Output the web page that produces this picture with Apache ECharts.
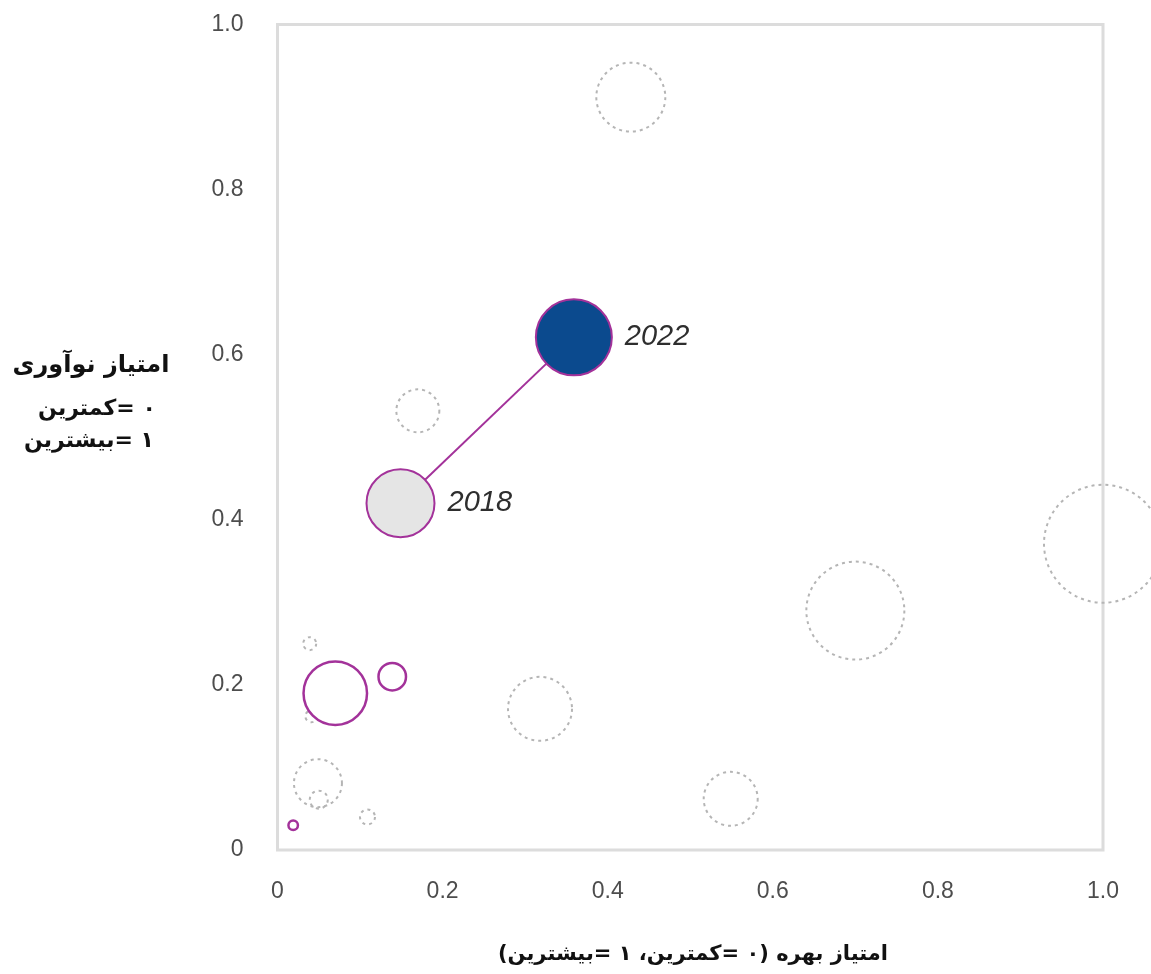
<!DOCTYPE html>
<html>
<head>
<meta charset="utf-8">
<script src="https://cdn.jsdelivr.net/npm/echarts@6/dist/echarts.min.js"></script>
<style>
html,body{margin:0;padding:0;background:#fff;}
#main{width:1151px;height:974px;}
</style>
</head>
<body>
<div id="main"></div>
<script>
// ---- data ----
const tickValues = [0, 0.2, 0.4, 0.6, 0.8, 1.0];
// other countries (dashed grey bubbles)
const otherX = [0.428, 0.170, 1.000, 0.700, 0.318, 0.549, 0.049, 0.050, 0.109, 0.039, 0.041];
const otherY = [0.912, 0.532, 0.371, 0.290, 0.171, 0.062, 0.081, 0.061, 0.040, 0.250, 0.162];
const otherW = [35.5, 22.5, 60, 50, 33, 28, 25, 10, 8.5, 7.5, 7];
// peer group (purple outlined bubbles)
const peerX = [0.070, 0.139, 0.019];
const peerY = [0.190, 0.210, 0.030];
const peerW = [33, 15, 6];
// highlighted country over time
const years = ['2018', '2022'];
const yearX = [0.149, 0.359];
const yearY = [0.420, 0.621];
const yearW = [35, 39];

const yNameLines = ['امتیاز نوآوری', '۰ =کمترین', '۱ =بیشترین'];
const xName = 'امتیاز بهره (۰ =کمترین، ۱ =بیشترین)';

const PURPLE = '#a3329a';
const rtl = s => '\u202B' + s + '\u202C';

const chart = echarts.init(document.getElementById('main'), null, {renderer: 'canvas'});

const axisCommon = {
  type: 'value', min: 0, max: 1, interval: 0.2,
  axisLine: {show: false}, axisTick: {show: false}, splitLine: {show: false},
  axisLabel: {
    color: '#4d4d4d', fontSize: 23, fontFamily: 'Liberation Sans, Arial, sans-serif',
    formatter: v => v === 0 ? '0' : v.toFixed(1)
  }
};

chart.setOption({
  animation: false,
  grid: {left: 277.5, top: 24.5, right: 48, bottom: 124, show: true,
         borderColor: '#dcdcdc', borderWidth: 3, backgroundColor: 'transparent'},
  xAxis: Object.assign({}, axisCommon, {axisLabel: Object.assign({}, axisCommon.axisLabel, {margin: 30})}),
  yAxis: Object.assign({}, axisCommon, {axisLabel: Object.assign({}, axisCommon.axisLabel, {margin: 34})}),
  series: [
    {
      name: 'others', type: 'scatter', z: 1,
      data: otherX.map((x, i) => [x, otherY[i], otherW[i]]),
      symbolSize: v => v[2] * 2 - 2,
      itemStyle: {color: 'rgba(0,0,0,0)', borderColor: '#b5b5b5', borderWidth: 2, borderType: [3, 4], opacity: 1},
      emphasis: {disabled: true}
    },
    {
      name: 'peers', type: 'scatter', z: 3,
      data: peerX.map((x, i) => [x, peerY[i], peerW[i]]),
      symbolSize: v => v[2] * 2 - 2.5,
      itemStyle: {color: '#ffffff', borderColor: PURPLE, borderWidth: 2.5, opacity: 1},
      emphasis: {disabled: true}
    },
    {
      name: 'path', type: 'line', z: 4,
      data: yearX.map((x, i) => [x, yearY[i]]),
      symbol: 'none',
      lineStyle: {color: PURPLE, width: 2},
      emphasis: {disabled: true}
    },
    {
      name: 'years', type: 'scatter', z: 5,
      data: yearX.map((x, i) => ({
        value: [x, yearY[i], yearW[i]],
        name: years[i],
        itemStyle: {color: i === 0 ? '#e5e5e5' : '#0b4a8e'}
      })),
      symbolSize: v => v[2] * 2 - 2,
      itemStyle: {borderColor: PURPLE, borderWidth: 2, opacity: 1},
      label: {
        show: true, position: 'right', distance: 12,
        formatter: p => p.name,
        color: '#2e2e2e', fontSize: 29, fontStyle: 'italic',
        fontFamily: 'Liberation Sans, Arial, sans-serif'
      },
      emphasis: {disabled: true}
    }
  ],
  graphic: [
    {type: 'text', x: 91, y: 366, style: {text: rtl(yNameLines[0]), align: 'center', verticalAlign: 'middle',
      font: 'bold 24px "DejaVu Sans", sans-serif', fill: '#111'}},
    {type: 'text', x: 97, y: 409, style: {text: rtl(yNameLines[1]), align: 'center', verticalAlign: 'middle',
      font: 'bold 22px "DejaVu Sans", sans-serif', fill: '#111'}},
    {type: 'text', x: 89, y: 441, style: {text: rtl(yNameLines[2]), align: 'center', verticalAlign: 'middle',
      font: 'bold 22px "DejaVu Sans", sans-serif', fill: '#111'}},
    {type: 'text', x: 693, y: 955, style: {text: rtl(xName), align: 'center', verticalAlign: 'middle',
      font: 'bold 21px "DejaVu Sans", sans-serif', fill: '#111'}}
  ]
});
</script>
</body>
</html>
